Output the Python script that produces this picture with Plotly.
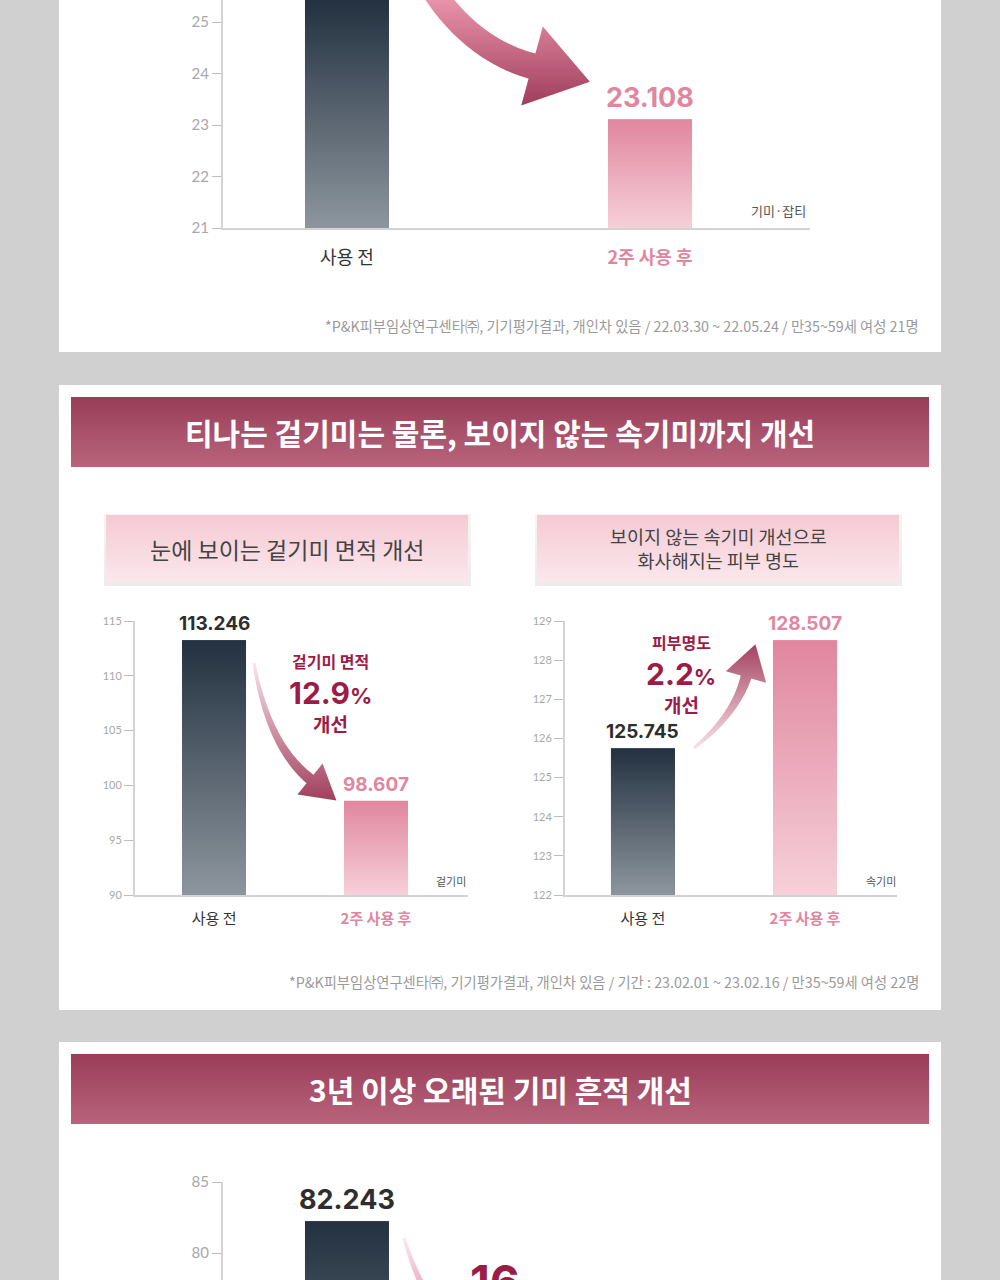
import numpy as np
import plotly.graph_objects as go

# ---------------- data ----------------
categories = ["사용 전", "2주 사용 후"]

# top chart (기미·잡티) - first bar extends past the visible top (estimated)
top_values = [26.5, 23.108]
top_ticks = [21, 22, 23, 24, 25]

# middle-left chart (겉기미 면적)
outer_values = [113.246, 98.607]
outer_ticks = [90, 95, 100, 105, 110, 115]
outer_change = "12.9"

# middle-right chart (피부 명도 / 속기미)
inner_values = [125.745, 128.507]
inner_ticks = [122, 123, 124, 125, 126, 127, 128, 129]
inner_change = "2.2"

# bottom chart (오래된 기미 흔적) - only the first bar is visible
old_values = [82.243]
old_ticks = [80, 85]
old_change = "16"

# ---------------- helpers ----------------
W, H = 1000, 1280
KR = "Noto Sans CJK KR"
NUM = "Inter, Noto Sans CJK KR"
CRIMSON = "#9c1c46"
PINK = "#e0869e"
DARK = "#2e2e2e"

def px(x):
    return x / W

def py(y):
    return 1 - y / H

fig = go.Figure()

def poly(xs, ys, c0, c1, start, stop, xa="x", ya="y", gtype="vertical"):
    fig.add_trace(go.Scatter(
        x=list(xs) + [xs[0]], y=list(ys) + [ys[0]], mode="none", fill="toself",
        fillgradient=dict(type=gtype, colorscale=[[0, c0], [1, c1]], start=start, stop=stop),
        hoverinfo="skip", xaxis=xa, yaxis=ya, showlegend=False))

def arrow(p0, p1, p2, w0, w1, head_w, head_len, c_start, c_end, g0, g1):
    p0, p1, p2 = map(np.array, (p0, p1, p2))
    t = np.linspace(0, 1, 60)[:, None]
    pts = (1 - t) ** 2 * p0 + 2 * (1 - t) * t * p1 + t ** 2 * p2
    tan = 2 * (1 - t) * (p1 - p0) + 2 * t * (p2 - p1)
    tan = tan / np.linalg.norm(tan, axis=1, keepdims=True)
    nrm = np.stack([-tan[:, 1], tan[:, 0]], axis=1)
    w = (w0 + (w1 - w0) * t)
    left = pts + nrm * w / 2
    right = pts - nrm * w / 2
    d, n = tan[-1], nrm[-1]
    wa = p2 + n * head_w / 2
    wb = p2 - n * head_w / 2
    tip = p2 + d * head_len
    P = np.vstack([left, wa, tip, wb, right[::-1]])
    poly(P[:, 0], P[:, 1], c_start, c_end, g0, g1)

# ---------------- decoration layer (pixel coordinates) ----------------
# header bars
for (y0, y1) in [(397, 467), (1054, 1124)]:
    poly([71, 929, 929, 71], [y1, y1, y0, y0], "#b9647c", "#993d58", y1, y0)
# sub-header boxes with soft shadow
for (x0, x1) in [(106, 468), (537, 899)]:
    poly([x0 - 2, x1 + 3, x1 + 3, x0 - 2], [586, 586, 514, 514], "#efeaeb", "#f7f4f5", 586, 514)
    poly([x0, x1, x1, x0], [582, 582, 515, 515], "#fbe7ec", "#f5cad4", 582, 515)

# arrows
arrow((410, -50), (455, 45), (532, 66), 22, 26, 82, 60, "#e892ab", "#a03e5d", 0, 105)
arrow((254, 663), (268, 745), (310, 779), 3, 11, 40, 34, "#fbe4ea", "#a13f5e", 663, 800)
arrow((694, 748), (735, 715), (746, 677), 3, 11, 42, 34, "#f9e0e7", "#a3405f", 748, 643)
arrow((404, 1238), (428, 1320), (490, 1370), 3, 14, 40, 30, "#fbe9ee", "#e7a2b6", 1238, 1300)

# ---------------- charts ----------------
def chart(idx, values, ticks, xdom, ydom, yrange, xrange, bw, tick_size, cat_size, standoff,
          show_x=True, val_size=21, grad_base=None):
    xa, ya = f"x{idx}", f"y{idx}"
    xs = list(range(len(values)))
    dark_bar = ("#8d969e", "#233140")
    pink_bar = ("#f6d0da", "#e0869e")
    grads = [dark_bar, pink_bar]
    gb = yrange[0] if grad_base is None else grad_base
    fig.add_trace(go.Bar(x=xs, y=values, width=bw, marker_color=["#5a6570", "#eba9bb"][:len(values)],
                         marker_line_width=0, xaxis=xa, yaxis=ya, hoverinfo="skip", showlegend=False))
    for i, v in enumerate(values):
        g = grads[i]
        top = min(v, yrange[1])
        poly([i - bw / 2, i + bw / 2, i + bw / 2, i - bw / 2], [yrange[0], yrange[0], top, top],
             g[0], g[1], gb, top, xa=xa, ya=ya)
        if v <= yrange[1]:
            fig.add_annotation(x=i, y=v, xref=xa, yref=ya, text=f"<b>{v:.3f}</b>", showarrow=False,
                               yanchor="bottom", yshift=3,
                               font=dict(family=NUM, size=val_size, color=[DARK, PINK][i]))
    lay = {}
    lay[f"xaxis{idx}"] = dict(domain=xdom, range=xrange, anchor=ya, visible=show_x,
                              tickmode="array", tickvals=xs,
                              ticktext=[f"<span style='color:#333'>{categories[0]}</span>",
                                        f"<span style='color:{PINK}'><b>{categories[1]}</b></span>"][:len(values)],
                              tickfont=dict(family=KR, size=cat_size), ticks="",
                              ticklabelstandoff=standoff, automargin=False,
                              showline=True, linecolor="#d3d3d3", linewidth=2, showgrid=False,
                              zeroline=False, fixedrange=True)
    lay[f"yaxis{idx}"] = dict(domain=ydom, range=yrange, anchor=xa, tickmode="array", tickvals=ticks,
                              ticks="outside", ticklen=9, tickcolor="#bdbdbd", tickwidth=1,
                              tickfont=dict(family="Lato", size=tick_size, color="#a8a8a8"),
                              automargin=False,
                              showline=True, linecolor="#d3d3d3", linewidth=2, showgrid=False,
                              zeroline=False, fixedrange=True)
    fig.update_layout(**lay)

chart(2, top_values, top_ticks, [px(223), px(810)], [py(228), 1.0], [21, 21 + 228 / 51.5],
      [-0.409, 1.528], 0.277, 15, 18, 12, val_size=27)
chart(3, outer_values, outer_ticks, [px(135), px(468)], [py(895), py(621)], [90, 115],
      [-0.488, 1.568], 0.395, 11, 15, 9, val_size=19)
chart(4, inner_values, inner_ticks, [px(565), px(897)], [py(895), py(621)], [122, 129],
      [-0.481, 1.568], 0.395, 11, 15, 9, val_size=19)
chart(5, old_values, old_ticks, [px(223), px(810)], [0, py(1182)], [80 - 27 / 14.2, 85],
      [-0.409, 1.528], 0.277, 15, 18, 12, show_x=False, val_size=27, grad_base=60)

# ---------------- text ----------------
def note(x, y, text, size, color, family=KR, xanchor="center", yanchor="middle"):
    fig.add_annotation(x=px(x), y=py(y), xref="paper", yref="paper", text=text, showarrow=False,
                       xanchor=xanchor, yanchor=yanchor, font=dict(family=family, size=size, color=color))

note(778, 211, "기미·잡티", 13, "#555")
note(921, 326, "*P&K피부임상연구센타㈜, 기기평가결과, 개인차 있음 / 22.03.30 ~ 22.05.24 / 만35~59세 여성 21명",
     14.3, "#9a9a9a", xanchor="right")

note(500, 432, "<b>티나는 겉기미는 물론, 보이지 않는 속기미까지 개선</b>", 30, "white")
note(287, 549, "눈에 보이는 겉기미 면적 개선", 23, "#444")
note(718, 548, "보이지 않는 속기미 개선으로<br>화사해지는 피부 명도", 18.5, "#444")

note(330, 661, "<b>겉기미 면적</b>", 16, CRIMSON)
note(330, 693, f"<b>{outer_change}</b><span style='font-size:22px'><b>%</b></span>", 30, CRIMSON, family=NUM)
note(330, 723, "<b>개선</b>", 19, CRIMSON)
note(451, 881, "겉기미", 11, "#555")

note(681, 642, "<b>피부명도</b>", 16, CRIMSON)
note(681, 674, f"<b>{inner_change}</b><span style='font-size:22px'><b>%</b></span>", 30, CRIMSON, family=NUM)
note(681, 704, "<b>개선</b>", 19, CRIMSON)
note(881, 881, "속기미", 11, "#555")

note(921, 981, "*P&K피부임상연구센타㈜, 기기평가결과, 개인차 있음 / 기간 : 23.02.01 ~ 23.02.16 / 만35~59세 여성 22명",
     14.3, "#9a9a9a", xanchor="right")

note(500, 1089, "<b>3년 이상 오래된 기미 흔적 개선</b>", 30, "white")
note(468, 1252, f"<b>{old_change}</b>", 46, CRIMSON, family=NUM, xanchor="left", yanchor="top")

# ---------------- layout ----------------
shapes = [dict(type="rect", xref="paper", yref="paper", x0=px(59), x1=px(941), y0=py(y1), y1=py(y0),
               fillcolor="white", line_width=0, layer="below")
          for (y0, y1) in [(-5, 352), (385, 1010), (1042, 1290)]]

fig.update_layout(
    width=W, height=H, margin=dict(l=0, r=0, t=0, b=0, autoexpand=False),
    paper_bgcolor="#d0d0d0", plot_bgcolor="rgba(0,0,0,0)",
    showlegend=False, shapes=shapes, bargap=0,
    xaxis=dict(domain=[0, 1], range=[0, W], visible=False, fixedrange=True, automargin=False),
    yaxis=dict(domain=[0, 1], range=[H, 0], visible=False, fixedrange=True, automargin=False),
)

fig.write_html("out.html")
